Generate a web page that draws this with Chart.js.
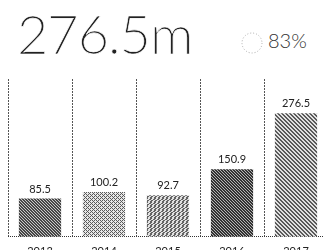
<!DOCTYPE html>
<html>
<head>
<meta charset="utf-8">
<script src="https://cdn.jsdelivr.net/npm/chart.js@4"></script>
<style>
  html, body { margin: 0; padding: 0; background: #fff; overflow: hidden; }
  body { width: 323px; height: 250px; position: relative; font-family: Lato, "Open Sans", sans-serif; color: #222; }
  #total { position: absolute; left: 17px; top: 1px; font-size: 54px; font-weight: 300; letter-spacing: -1px;
           -webkit-text-stroke: 0.7px #fff; }
  #share { position: absolute; left: 268px; top: 28px; font-size: 20px; font-weight: 300; color: #333; }
  #ring { position: absolute; left: 240px; top: 31px; }
  #wrap { position: absolute; left: 0; top: 0; width: 328px; height: 266px; }
</style>
</head>
<body>
<div id="total">276.5m</div>
<canvas id="ring" width="24" height="24"></canvas>
<div id="share">83%</div>
<div id="wrap"><canvas id="revenueChart"></canvas></div>
<script>
const years = ['2013', '2014', '2015', '2016', '2017'];
const revenue = [85.5, 100.2, 92.7, 150.9, 276.5];

// little dotted ring next to the percentage
const rc = document.getElementById('ring').getContext('2d');
rc.strokeStyle = '#aaa';
rc.lineWidth = 1;
rc.setLineDash([1, 2]);
rc.beginPath();
rc.arc(12, 12, 10, 0, Math.PI * 2);
rc.stroke();

const ctx = document.getElementById('revenueChart').getContext('2d');

// dithered textures for the bars, built pixel by pixel
function makePattern(size, shade) {
    const c = document.createElement('canvas');
    c.width = size; c.height = size;
    const g = c.getContext('2d');
    const img = g.createImageData(size, size);
    for (let y = 0; y < size; y++) {
        for (let x = 0; x < size; x++) {
            const v = shade(x, y);
            const k = (y * size + x) * 4;
            img.data[k] = img.data[k + 1] = img.data[k + 2] = v;
            img.data[k + 3] = 255;
        }
    }
    g.putImageData(img, 0, 0);
    return ctx.createPattern(c, 'repeat');
}

const bayer = [[0, 8, 2, 10], [12, 4, 14, 6], [3, 11, 1, 9], [15, 7, 13, 5]];

const fills = [
    makePattern(12, (x, y) => (((x - y + 24) % 3) < 2 ? 70 : 200)),
    makePattern(4, (x, y) => (bayer[y][x] < 6 ? 90 : 230)),
    makePattern(8, (x, y) => ((x + y + (y % 4 < 2 ? 1 : 0)) % 4 < 2 ? 100 : 225)),
    makePattern(6, (x, y) => (((x + 2 * y) % 3) < 2 ? 50 : 180)),
    makePattern(8, (x, y) => (((x - y + 16) % 4) < 2 ? 90 : 225))
];

const valueLabels = {
    id: 'valueLabels',
    afterDatasetsDraw(chart) {
        const c = chart.ctx;
        const meta = chart.getDatasetMeta(0);
        c.save();
        c.font = '11px Lato, sans-serif';
        c.fillStyle = '#222';
        c.textAlign = 'center';
        c.textBaseline = 'bottom';
        meta.data.forEach((bar, i) => {
            c.fillText(revenue[i].toFixed(1), bar.x, bar.y - 4);
        });
        c.restore();
    }
};

new Chart(ctx, {
    type: 'bar',
    data: {
        labels: years,
        datasets: [{
            data: revenue,
            backgroundColor: fills,
            borderWidth: 0,
            categoryPercentage: 1,
            barPercentage: 0.66
        }]
    },
    options: {
        responsive: true,
        maintainAspectRatio: false,
        animation: false,
        layout: { padding: { left: 8, top: 79, right: 0, bottom: 0 } },
        plugins: {
            legend: { display: false },
            tooltip: { enabled: false }
        },
        scales: {
            x: {
                grid: {
                    offset: true,
                    drawTicks: false,
                    color: '#555',
                    lineWidth: 1
                },
                border: { display: true, color: '#333', dash: [2, 1] },
                ticks: {
                    padding: 8,
                    color: '#222',
                    font: { family: 'Lato', size: 11 }
                }
            },
            y: {
                display: false,
                min: 0,
                max: 353
            }
        }
    },
    plugins: [valueLabels, {
        id: 'dottedGrid',
        beforeDraw(chart) { chart.ctx.setLineDash([1, 1]); },
        afterDraw(chart) { chart.ctx.setLineDash([]); }
    }]
});
</script>
</body>
</html>
